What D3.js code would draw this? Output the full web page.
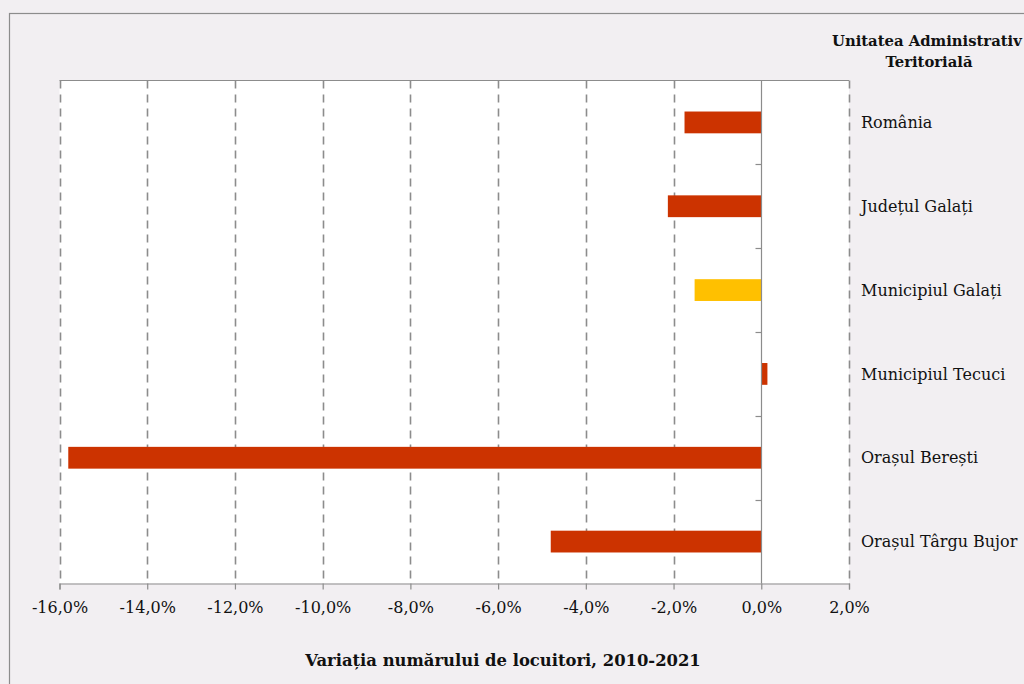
<!DOCTYPE html>
<html><head><meta charset="utf-8">
<script src="https://cdn.jsdelivr.net/npm/d3@7"></script>
<style>
html,body{margin:0;padding:0;background:#f2eff2;}
svg{display:block;font-family:"DejaVu Serif",serif;}
</style></head>
<body>
<svg id="c" width="1024" height="684"></svg>
<script>
const categories = ["România","Județul Galați","Municipiul Galați","Municipiul Tecuci","Orașul Berești","Orașul Târgu Bujor"];
const values = [-1.75, -2.13, -1.52, 0.14, -15.8, -4.80];
const barColors = ["#cc3300","#cc3300","#ffc000","#cc3300","#cc3300","#cc3300"];
const tickValues = [-16,-14,-12,-10,-8,-6,-4,-2,0,2];
const xTitle = "Variația numărului de locuitori, 2010-2021";
const yTitle = ["Unitatea Administrativ","Teritorială"];

const svg = d3.select("#c");
svg.append("rect").attr("x",0).attr("y",0).attr("width",1024).attr("height",684).attr("fill","#f2eff2");
svg.append("rect").attr("x",9.5).attr("y",13.5).attr("width",1030).attr("height",700)
  .attr("fill","none").attr("stroke","#8c8c8c").attr("stroke-width",1.2);

const L=59.5, R=849, T=80.5, B=583.5;
const x = d3.scaleLinear().domain([-16,2]).range([L,R]);
const y = d3.scaleBand().domain(categories).range([T,B]).paddingInner(0.74).paddingOuter(0.37);
const yb = d3.scaleBand().domain(categories).range([T,B]);

svg.append("rect").attr("x",L).attr("y",T).attr("width",R-L).attr("height",B-T).attr("fill","#ffffff");

// gridlines
svg.append("g").selectAll("line").data(tickValues.filter(d=>d!==0)).join("line")
  .attr("x1",d=>Math.round(x(d))+0.5).attr("x2",d=>Math.round(x(d))+0.5)
  .attr("y1",T).attr("y2",B)
  .attr("stroke","#8c8c8c").attr("stroke-width",1.6).attr("stroke-dasharray","8,6");

// top border
svg.append("line").attr("x1",L).attr("x2",R).attr("y1",T).attr("y2",T).attr("stroke","#8c8c8c").attr("stroke-width",1.2);

// bars
svg.append("g").selectAll("rect").data(categories).join("rect")
  .attr("x",(d,i)=>x(Math.min(0,values[i])))
  .attr("width",(d,i)=>Math.abs(x(values[i])-x(0)))
  .attr("y",d=>y(d)).attr("height",y.bandwidth())
  .attr("fill",(d,i)=>barColors[i]);

// zero axis with category ticks
const x0 = Math.round(x(0))+0.5;
svg.append("line").attr("x1",x0).attr("x2",x0).attr("y1",T).attr("y2",B).attr("stroke","#8c8c8c").attr("stroke-width",1.2);
svg.append("g").selectAll("line").data(categories.slice(1)).join("line")
  .attr("x1",x0-6).attr("x2",x0).attr("y1",d=>Math.round(yb(d))+0.5).attr("y2",d=>Math.round(yb(d))+0.5)
  .attr("stroke","#8c8c8c").attr("stroke-width",1.2);

// bottom axis
const xAxis = d3.axisBottom(x).tickValues(tickValues).tickSize(6).tickPadding(12)
  .tickFormat(d=>d3.format(".1f")(d).replace(".",",").replace("−","-")+"%");
const gx = svg.append("g").attr("transform",`translate(0,${B})`).call(xAxis)
  .attr("font-family","DejaVu Serif, serif").attr("font-size",16);
gx.select(".domain").attr("stroke","#8c8c8c").attr("stroke-width",1.2);
gx.selectAll(".tick line").attr("stroke","#8c8c8c").attr("stroke-width",1.2);
gx.selectAll(".tick text").style("font-family","DejaVu Serif, serif").attr("font-size",16).attr("fill","#111");

// category labels
svg.append("g").selectAll("text").data(categories).join("text")
  .attr("x",861).attr("y",d=>yb(d)+yb.bandwidth()/2).attr("dy","0.35em")
  .attr("font-size",16).attr("fill","#111").text(d=>d);

// titles
svg.append("text").attr("x",503).attr("y",666).attr("text-anchor","middle")
  .attr("font-size",16.4).attr("font-weight","bold").attr("fill","#111").text(xTitle);
svg.append("text").attr("x",832).attr("y",46).attr("font-size",14.8).attr("font-weight","bold").attr("fill","#111").text(yTitle[0]);
svg.append("text").attr("x",929).attr("y",67).attr("text-anchor","middle").attr("font-size",14.8).attr("font-weight","bold").attr("fill","#111").text(yTitle[1]);
</script>
</body></html>
